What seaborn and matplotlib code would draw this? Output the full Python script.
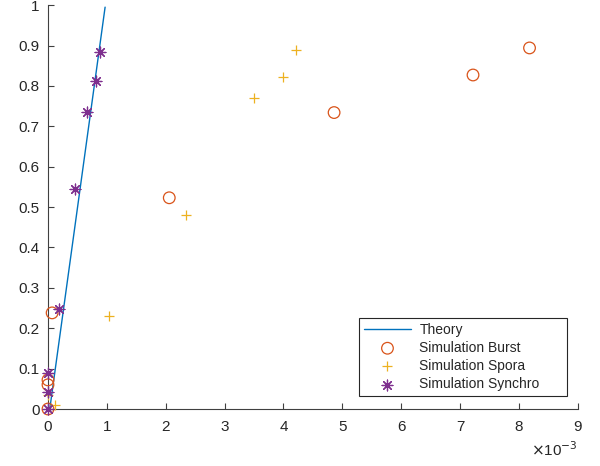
import numpy as np
import pandas as pd
import seaborn as sns
import matplotlib
matplotlib.use("Agg")
import matplotlib.pyplot as plt

# Data (x in units of 1e-3)
theory_x = [0.03e-3, 0.97e-3]
theory_y = [0.0, 0.995]

burst_x = [0.0, 0.0, 0.0, 0.07e-3, 2.06e-3, 4.86e-3, 7.22e-3, 8.18e-3]
burst_y = [0.0, 0.06, 0.072, 0.238, 0.523, 0.734, 0.827, 0.894]

spora_x = [0.0, 0.12e-3, 1.03e-3, 2.35e-3, 3.50e-3, 4.00e-3, 4.21e-3]
spora_y = [0.035, 0.01, 0.23, 0.48, 0.771, 0.821, 0.888]

synchro_x = [0.0, 0.0, 0.0, 0.19e-3, 0.465e-3, 0.655e-3, 0.815e-3, 0.89e-3]
synchro_y = [0.0, 0.042, 0.09, 0.247, 0.545, 0.735, 0.811, 0.884]

labels = ["Theory", "Simulation Burst", "Simulation Spora", "Simulation Synchro"]
colors = ["#0072BD", "#D95319", "#EDB120", "#7E2F8E"]

sns.set_style("ticks")
plt.rcParams['font.family'] = ['Liberation Sans', 'DejaVu Sans']
plt.rcParams['axes.edgecolor'] = '#404040'

fig = plt.figure(figsize=(6.0, 4.66), dpi=100)
ax = fig.add_axes([0.08, 0.1223, 0.883, 0.8667])

sns.lineplot(x=theory_x, y=theory_y, ax=ax, color=colors[0], linewidth=1.0, label=labels[0])
sns.scatterplot(x=burst_x, y=burst_y, ax=ax, marker='o', s=70, facecolors='none',
                edgecolor=colors[1], linewidth=0.9, label=labels[1], clip_on=False, zorder=3)
sns.scatterplot(x=spora_x, y=spora_y, ax=ax, marker='+', s=60, color=colors[2],
                linewidth=0.9, label=labels[2], clip_on=False, zorder=3)
sns.scatterplot(x=synchro_x, y=synchro_y, ax=ax, marker=(8, 2, 0), s=60, color=colors[3],
                linewidth=0.9, label=labels[3], clip_on=False, zorder=4)

ax.set_xlim(0, 9e-3)
ax.set_ylim(0, 1)
ax.set_xticks(np.arange(0, 10) * 1e-3)
ax.set_xticklabels([str(i) for i in range(10)])
ax.set_yticks(np.arange(0, 11) / 10)
ax.set_yticklabels(["0"] + [f"{v/10:.1f}" for v in range(1, 10)] + ["1"])
ax.tick_params(direction='in', length=4, width=0.8, labelsize=11, labelcolor='#262626', color='#404040')
ax.tick_params(axis='x', pad=8)
ax.tick_params(axis='y', pad=6)
for s in ['top', 'right']:
    ax.spines[s].set_visible(False)
for s in ['left', 'bottom']:
    ax.spines[s].set_linewidth(0.8)

ax.text(1.0, -0.116, r"$\times$10$^{-3}$", transform=ax.transAxes, ha='right', va='baseline',
        fontsize=11, color='#262626')

leg = ax.legend(loc='lower left', bbox_to_anchor=(0.587, 0.032, 0.392, 0.19), mode='expand',
                fontsize=10, frameon=True, fancybox=False, edgecolor='#262626', framealpha=1,
                borderpad=0.35, labelspacing=0.3, handlelength=3.4, handletextpad=0.6,
                borderaxespad=0.0)
leg.get_frame().set_linewidth(0.8)

fig.savefig("out.png", dpi=100)
